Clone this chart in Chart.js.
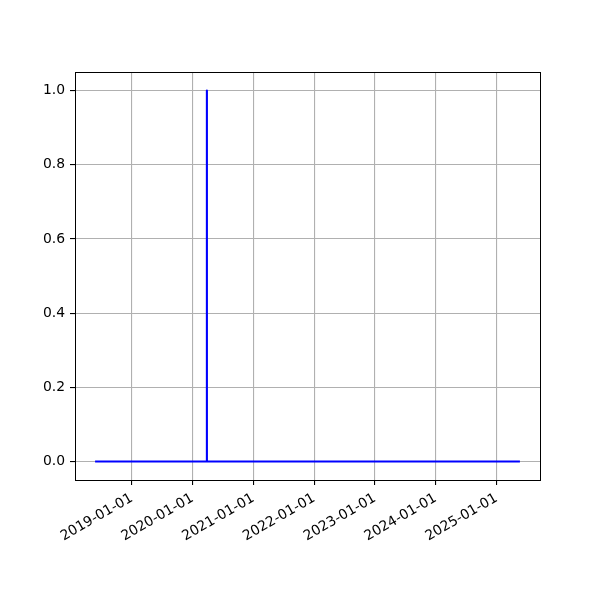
<!DOCTYPE html>
<html>
<head>
<meta charset="utf-8">
<script src="https://cdn.jsdelivr.net/npm/chart.js@4/dist/chart.umd.min.js"></script>
<style>
html,body{margin:0;padding:0;background:#fff;}
#wrap{width:600px;height:600px;}
</style>
</head>
<body>
<div id="wrap"><canvas id="c" width="600" height="600"></canvas></div>
<script>
// ---- data ----
const dates = ['2018-06-01', '2020-03-26', '2020-03-27', '2020-03-28', '2025-05-15'];
const values = [0, 0, 1, 0, 0];
const xTickLabels = ['2019-01-01', '2020-01-01', '2021-01-01', '2022-01-01', '2023-01-01', '2024-01-01', '2025-01-01'];
const yTicks = [0.0, 0.2, 0.4, 0.6, 0.8, 1.0];

const DAY = 86400000;
function toDay(s) { const p = s.split('-').map(Number); return Date.UTC(p[0], p[1] - 1, p[2]) / DAY; }
function fmtDay(d) { return new Date(d * DAY).toISOString().slice(0, 10); }

const points = dates.map((d, i) => ({ x: toDay(d), y: values[i] }));
const xs = points.map(p => p.x);
const xMinData = Math.min(...xs), xMaxData = Math.max(...xs);
const xMargin = (xMaxData - xMinData) * 0.05;
const xTickVals = xTickLabels.map(toDay);

const fontSpec = { family: 'DejaVu Sans', size: 13.9 };

const framePlugin = {
  id: 'frame',
  afterDraw(chart) {
    const a = chart.chartArea, ctx = chart.ctx;
    ctx.save();
    ctx.strokeStyle = '#000';
    ctx.lineWidth = 1;
    ctx.strokeRect(Math.round(a.left) + 0.5, Math.round(a.top) + 0.5, Math.round(a.right - a.left), Math.round(a.bottom - a.top));
    ctx.restore();
  }
};

new Chart(document.getElementById('c'), {
  type: 'line',
  data: {
    datasets: [{
      data: points,
      borderColor: '#0000ff',
      borderWidth: 2.1,
      borderCapStyle: 'square',
      borderJoinStyle: 'round',
      pointRadius: 0,
      tension: 0,
      fill: false
    }]
  },
  options: {
    responsive: false,
    animation: false,
    devicePixelRatio: 1,
    layout: { padding: { top: 72, right: 60, left: 0, bottom: 0 } },
    plugins: { legend: { display: false }, tooltip: { enabled: false } },
    scales: {
      x: {
        type: 'linear',
        min: xMinData - xMargin,
        max: xMaxData + xMargin,
        afterBuildTicks(scale) { scale.ticks = xTickVals.map(v => ({ value: v })); },
        afterFit(scale) { scale.height = 120; scale.paddingLeft = 0; scale.paddingRight = 0; },
        grid: { color: '#b0b0b0', lineWidth: 1.1, tickColor: '#000', tickLength: 5, drawOnChartArea: true },
        border: { color: '#000', width: 1 },
        ticks: {
          autoSkip: false,
          minRotation: 30,
          maxRotation: 30,
          padding: 5,
          color: '#000',
          font: fontSpec,
          callback: (v) => fmtDay(v)
        }
      },
      y: {
        type: 'linear',
        min: -0.05,
        max: 1.05,
        afterBuildTicks(scale) { scale.ticks = yTicks.map(v => ({ value: v })); },
        afterFit(scale) { scale.width = 75; },
        grid: { color: '#b0b0b0', lineWidth: 1.1, tickColor: '#000', tickLength: 5 },
        border: { color: '#000', width: 1 },
        ticks: {
          padding: 5,
          color: '#000',
          font: fontSpec,
          callback: (v) => Number(v).toFixed(1)
        }
      }
    }
  },
  plugins: [framePlugin]
});
</script>
</body>
</html>
